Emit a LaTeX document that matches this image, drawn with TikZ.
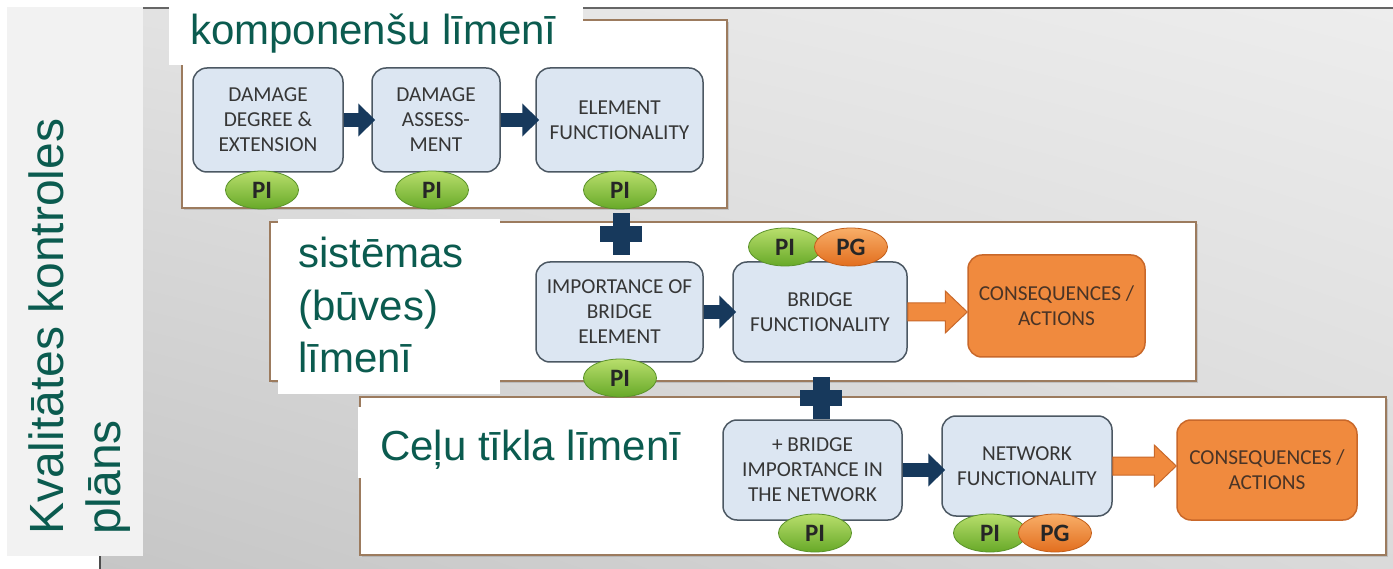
\documentclass[tikz,border=0pt]{standalone}
\usepackage{fontspec}
\setmainfont{Liberation Sans}
\newfontfamily\boxfont{Carlito}
\usetikzlibrary{arrows.meta,calc,shadows,shapes.geometric,shadings}
\definecolor{lblteal}{HTML}{0B5B4F}
\definecolor{lblgray}{HTML}{F2F2F2}
\definecolor{navyc}{HTML}{17395C}
\definecolor{boxfill}{HTML}{DCE6F2}
\definecolor{boxdraw}{HTML}{4C5863}
\definecolor{boxtext}{HTML}{363636}
\definecolor{panelc}{HTML}{9C7B5E}
\definecolor{orfill}{HTML}{F08A3E}
\definecolor{ordraw}{HTML}{C9682A}
\definecolor{ortext}{HTML}{4A3426}
\definecolor{pitop}{HTML}{B8DE6C}
\definecolor{pibot}{HTML}{67A928}
\definecolor{pidraw}{HTML}{5A922A}
\definecolor{pgtop}{HTML}{F8AE68}
\definecolor{pgbot}{HTML}{E26E1E}
\definecolor{pgdraw}{HTML}{C25E1A}
\definecolor{bgul}{HTML}{E2E2E2}
\definecolor{bgur}{HTML}{EDEDED}
\definecolor{bgll}{HTML}{C6C6C6}
\definecolor{bglr}{HTML}{DADADA}
\newcommand\orangearrow[2]{\draw[orarr] let \p1=(#1.east), \p2=(#2.west) in
  (\x1,\y1-9pt) -- (\x2-22pt,\y1-9pt) -- (\x2-22pt,\y1-21pt) -- (\x2,\y1) --
  (\x2-22pt,\y1+21pt) -- (\x2-22pt,\y1+9pt) -- (\x1,\y1+9pt) -- cycle;}
\begin{document}
\begin{tikzpicture}[x=1pt,y=-1pt,
  panel/.style={draw=panelc,line width=1.6pt,fill=white,
    drop shadow={shadow xshift=2pt,shadow yshift=-2pt,opacity=0.3}},
  title/.style={text=lblteal,inner sep=0pt,font=\fontsize{42}{52.5}\selectfont,align=left},
  bbox/.style={rounded corners=14pt,draw=boxdraw,fill=boxfill,line width=1.5pt,
    font=\boxfont\fontsize{21.3}{25}\selectfont,text=boxtext,align=center,inner sep=0pt},
  obox/.style={bbox,fill=orfill,draw=ordraw,text=ortext},
  pinode/.style={ellipse,minimum width=73pt,minimum height=38pt,inner sep=0pt,
    top color=pitop,bottom color=pibot,draw=pidraw,line width=0.8pt,
    font=\boxfont\bfseries\fontsize{25}{25}\selectfont,text=black!85},
  pgnode/.style={pinode,top color=pgtop,bottom color=pgbot,draw=pgdraw},
  plusv/.style={fill=navyc,minimum width=17pt,minimum height=42pt,inner sep=0pt},
  plush/.style={fill=navyc,minimum width=42pt,minimum height=16pt,inner sep=0pt},
  navyarr/.style={draw=navyc,line width=14pt,shorten >=-4pt,-{Triangle[width=32pt,length=17pt]}},
  orarr/.style={fill=orfill,draw=ordraw,line width=1pt}]
\useasboundingbox (0,0) rectangle (1393,569);
\fill[white] (0,0) rectangle (1393,569);
% background panel
\shade[upper left=bgul,upper right=bgur,lower left=bgll,lower right=bglr]
  (100,8) rectangle (1393,569);
\draw[black!60,line width=1.5pt] (100,8) -- (1393,8);
\draw[black!70,line width=1.5pt] (100,556) -- (100,569);
% left label
\fill[lblgray] (7,7) rectangle (143,556);
\node[rotate=90,anchor=north west,align=left,inner sep=0pt,text=lblteal,
  font=\fontsize{48}{57}\selectfont] (lbl) at (29,535) {Kvalitātes kontroles\\plāns};
% level panels
\draw[panel] (182,20) rectangle (727,208);
\draw[panel] (270,222) rectangle (1196,381);
\draw[panel] (360,397) rectangle (1386,555);
% level titles
\fill[white] (169,2) rectangle (583,65);
\node[title,anchor=base west] (t1) at (190,45) {komponenšu līmenī};
\fill[white] (278,219) rectangle (500,394);
\node[title,anchor=north west] (t2) at (298,237) {sistēmas\\(būves)\\līmenī};
\fill[white] (358,407) rectangle (690,478);
\node[title,anchor=base west] (t3) at (380,460) {Ceļu tīkla līmenī};
% boxes
\node[bbox,minimum width=150pt,minimum height=104pt] (dA) at (268,120) {DAMAGE\\DEGREE \&\\EXTENSION};
\node[bbox,minimum width=128pt,minimum height=104pt] (dB) at (436,120) {DAMAGE\\ASSESS-\\MENT};
\node[bbox,minimum width=167pt,minimum height=104pt] (dC) at (619.5,120) {ELEMENT\\FUNCTIONALITY};
\node[bbox,minimum width=167pt,minimum height=100pt] (dD) at (619.5,312) {IMPORTANCE OF\\BRIDGE\\ELEMENT};
\node[bbox,minimum width=174pt,minimum height=100pt] (dE) at (820,312) {BRIDGE\\FUNCTIONALITY};
\node[obox,minimum width=177pt,minimum height=102pt] (dF) at (1056.5,306) {CONSEQUENCES /\\ACTIONS};
\node[bbox,minimum width=179pt,minimum height=100pt] (dG) at (812.5,470) {+ BRIDGE\\IMPORTANCE IN\\THE NETWORK};
\node[bbox,minimum width=170pt,minimum height=100pt] (dH) at (1027,466) {NETWORK\\FUNCTIONALITY};
\node[obox,minimum width=180pt,minimum height=100pt] (dI) at (1267,470) {CONSEQUENCES /\\ACTIONS};
% arrows
\draw[navyarr] (dA) -- (dB);
\draw[navyarr] (dB) -- (dC);
\draw[navyarr] (dD) -- (dE);
\draw[navyarr] (dG.east) -- (dG.east -| dH.west);
\orangearrow{dE}{dF}
\orangearrow{dH}{dI}
% indicators
\node[pinode] (pi1) at (262,190) {PI};
\node[pinode] (pi2) at (432,190) {PI};
\node[pinode] (pi3) at (620,190) {PI};
\node[pinode] (pi4) at (620,378) {PI};
\node[pinode] (pi5) at (785,247) {PI};
\node[pgnode] (pg5) at (851,247) {PG};
\node[pinode] (pi6) at (815,533) {PI};
\node[pinode] (pi7) at (990,533) {PI};
\node[pgnode] (pg7) at (1055,533) {PG};
% plus signs
\node[plusv] (plus1) at (621,234) {};
\node[plush] (plus1h) at (621,234) {};
\node[plusv] (plus2) at (821,398) {};
\node[plush] (plus2h) at (821,398) {};
\end{tikzpicture}
\end{document}
